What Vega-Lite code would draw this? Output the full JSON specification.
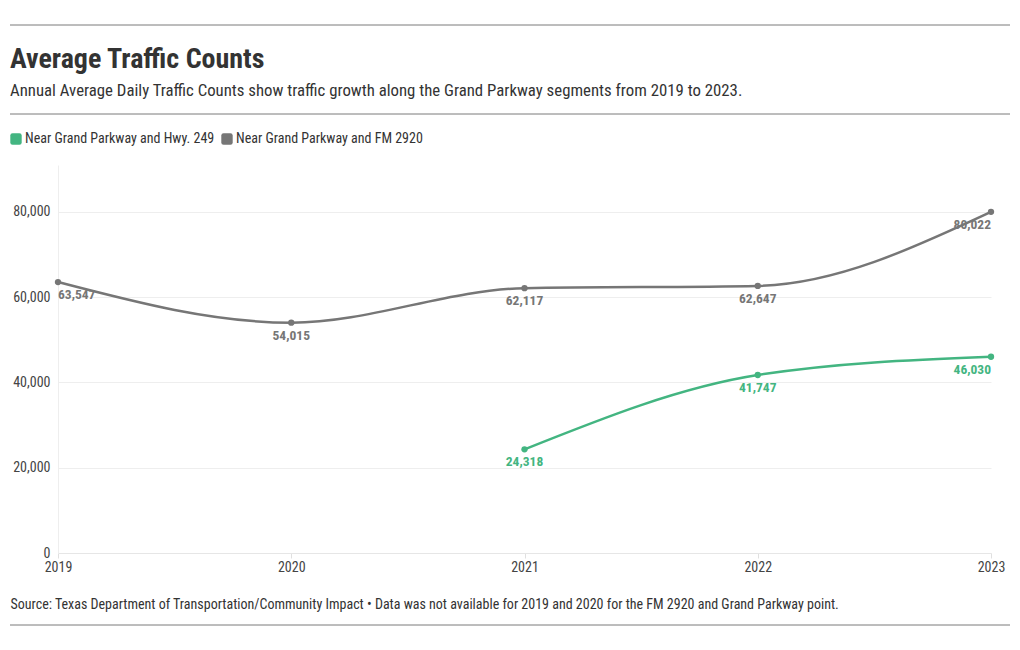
{
  "$schema": "https://vega.github.io/schema/vega-lite/v6.json",
  "width": 933,
  "height": 388,
  "autosize": "none",
  "padding": {"left": 58, "top": 165, "right": 29, "bottom": 97},
  "background": "white",
  "config": {
    "font": "Roboto Condensed, Liberation Sans Narrow, Roboto",
    "view": {"stroke": null}
  },
  "title": {
    "text": "Average Traffic Counts",
    "subtitle": "Annual Average Daily Traffic Counts show traffic growth along the Grand Parkway segments from 2019 to 2023.",
    "anchor": "start",
    "frame": "group",
    "dx": -48,
    "fontSize": 28,
    "fontWeight": "bold",
    "color": "#333333",
    "subtitleFontSize": 16.8,
    "subtitleColor": "#333333",
    "subtitlePadding": 9,
    "offset": -75
  },
  "data": {
    "values": [
      {"year": 2019, "value": 63547, "series": "Near Grand Parkway and FM 2920"},
      {"year": 2020, "value": 54015, "series": "Near Grand Parkway and FM 2920"},
      {"year": 2021, "value": 62117, "series": "Near Grand Parkway and FM 2920"},
      {"year": 2022, "value": 62647, "series": "Near Grand Parkway and FM 2920"},
      {"year": 2023, "value": 80022, "series": "Near Grand Parkway and FM 2920"},
      {"year": 2021, "value": 24318, "series": "Near Grand Parkway and Hwy. 249"},
      {"year": 2022, "value": 41747, "series": "Near Grand Parkway and Hwy. 249"},
      {"year": 2023, "value": 46030, "series": "Near Grand Parkway and Hwy. 249"}
    ]
  },
  "layer": [
    {
      "data": {"values": [{}]},
      "mark": {"type": "rule", "color": "#7a7a7a", "strokeWidth": 1},
      "encoding": {"x": {"value": -48}, "x2": {"value": 952}, "y": {"value": -140}}
    },
    {
      "data": {"values": [{}]},
      "mark": {"type": "rule", "color": "#7a7a7a", "strokeWidth": 1},
      "encoding": {"x": {"value": -48}, "x2": {"value": 952}, "y": {"value": -51}}
    },
    {
      "data": {"values": [{}]},
      "mark": {"type": "rule", "color": "#7a7a7a", "strokeWidth": 1},
      "encoding": {"x": {"value": -48}, "x2": {"value": 952}, "y": {"value": 460}}
    },
    {
      "mark": {"type": "line", "interpolate": "monotone", "strokeWidth": 2.5},
      "encoding": {
        "x": {
          "field": "year", "type": "quantitative",
          "scale": {"domain": [2019, 2023], "nice": false, "zero": false},
          "axis": {
            "values": [2019, 2020, 2021, 2022, 2023],
            "format": "d",
            "labelFontSize": 14,
            "labelColor": "#444444",
            "labelFlush": false,
            "labelPadding": 2,
            "domainColor": "#e6e6e6",
            "tickColor": "#e0e0e0",
            "tickSize": 5,
            "grid": false,
            "title": "Source: Texas Department of Transportation/Community Impact • Data was not available for 2019 and 2020 for the FM 2920 and Grand Parkway point.",
            "titleFontSize": 14,
            "titleFontWeight": "normal",
            "titleColor": "#333333",
            "titleAnchor": "start",
            "titleAlign": "left",
            "titleBaseline": "alphabetic",
            "titleX": -48,
            "titleY": 55,
            "titleLimit": 1000
          }
        },
        "y": {
          "field": "value", "type": "quantitative",
          "scale": {"domain": [0, 91000], "nice": false},
          "axis": {
            "values": [0, 20000, 40000, 60000, 80000],
            "format": ",d",
            "labelFontSize": 14,
            "labelColor": "#444444",
            "labelPadding": 8,
            "ticks": false,
            "grid": true,
            "gridColor": "#eeeeee",
            "domainColor": "#eeeeee",
            "title": null
          }
        },
        "color": {
          "field": "series", "type": "nominal",
          "scale": {
            "domain": ["Near Grand Parkway and Hwy. 249", "Near Grand Parkway and FM 2920"],
            "range": ["#43b581", "#767676"]
          },
          "legend": {
            "orient": "none",
            "legendX": -49,
            "legendY": -33,
            "direction": "horizontal",
            "title": null,
            "padding": 0,
            "symbolType": "M -0.6 -1 H 0.6 Q 1 -1 1 -0.6 V 0.6 Q 1 1 0.6 1 H -0.6 Q -1 1 -1 0.6 V -0.6 Q -1 -1 -0.6 -1 Z",
            "symbolSize": 130,
            "symbolStrokeWidth": 0,
            "labelFontSize": 14,
            "labelColor": "#333333",
            "labelOffset": 2,
            "labelLimit": 400,
            "columnPadding": 5
          }
        }
      }
    },
    {
      "mark": {"type": "point", "filled": true, "size": 40, "opacity": 1},
      "encoding": {
        "x": {"field": "year", "type": "quantitative"},
        "y": {"field": "value", "type": "quantitative"},
        "color": {"field": "series", "type": "nominal"}
      }
    },
    {
      "transform": [{"filter": "datum.year > 2019 && datum.year < 2023"}],
      "mark": {"type": "text", "align": "center", "baseline": "middle", "dy": 13, "fontSize": 13.5, "fontWeight": "bold"},
      "encoding": {
        "x": {"field": "year", "type": "quantitative"},
        "y": {"field": "value", "type": "quantitative"},
        "text": {"field": "value", "type": "quantitative", "format": ","},
        "color": {"field": "series", "type": "nominal"}
      }
    },
    {
      "transform": [{"filter": "datum.year == 2019"}],
      "mark": {"type": "text", "align": "left", "baseline": "middle", "dy": 13, "fontSize": 13.5, "fontWeight": "bold"},
      "encoding": {
        "x": {"field": "year", "type": "quantitative"},
        "y": {"field": "value", "type": "quantitative"},
        "text": {"field": "value", "type": "quantitative", "format": ","},
        "color": {"field": "series", "type": "nominal"}
      }
    },
    {
      "transform": [{"filter": "datum.year == 2023"}],
      "mark": {"type": "text", "align": "right", "baseline": "middle", "dy": 13, "fontSize": 13.5, "fontWeight": "bold"},
      "encoding": {
        "x": {"field": "year", "type": "quantitative"},
        "y": {"field": "value", "type": "quantitative"},
        "text": {"field": "value", "type": "quantitative", "format": ","},
        "color": {"field": "series", "type": "nominal"}
      }
    }
  ]
}
